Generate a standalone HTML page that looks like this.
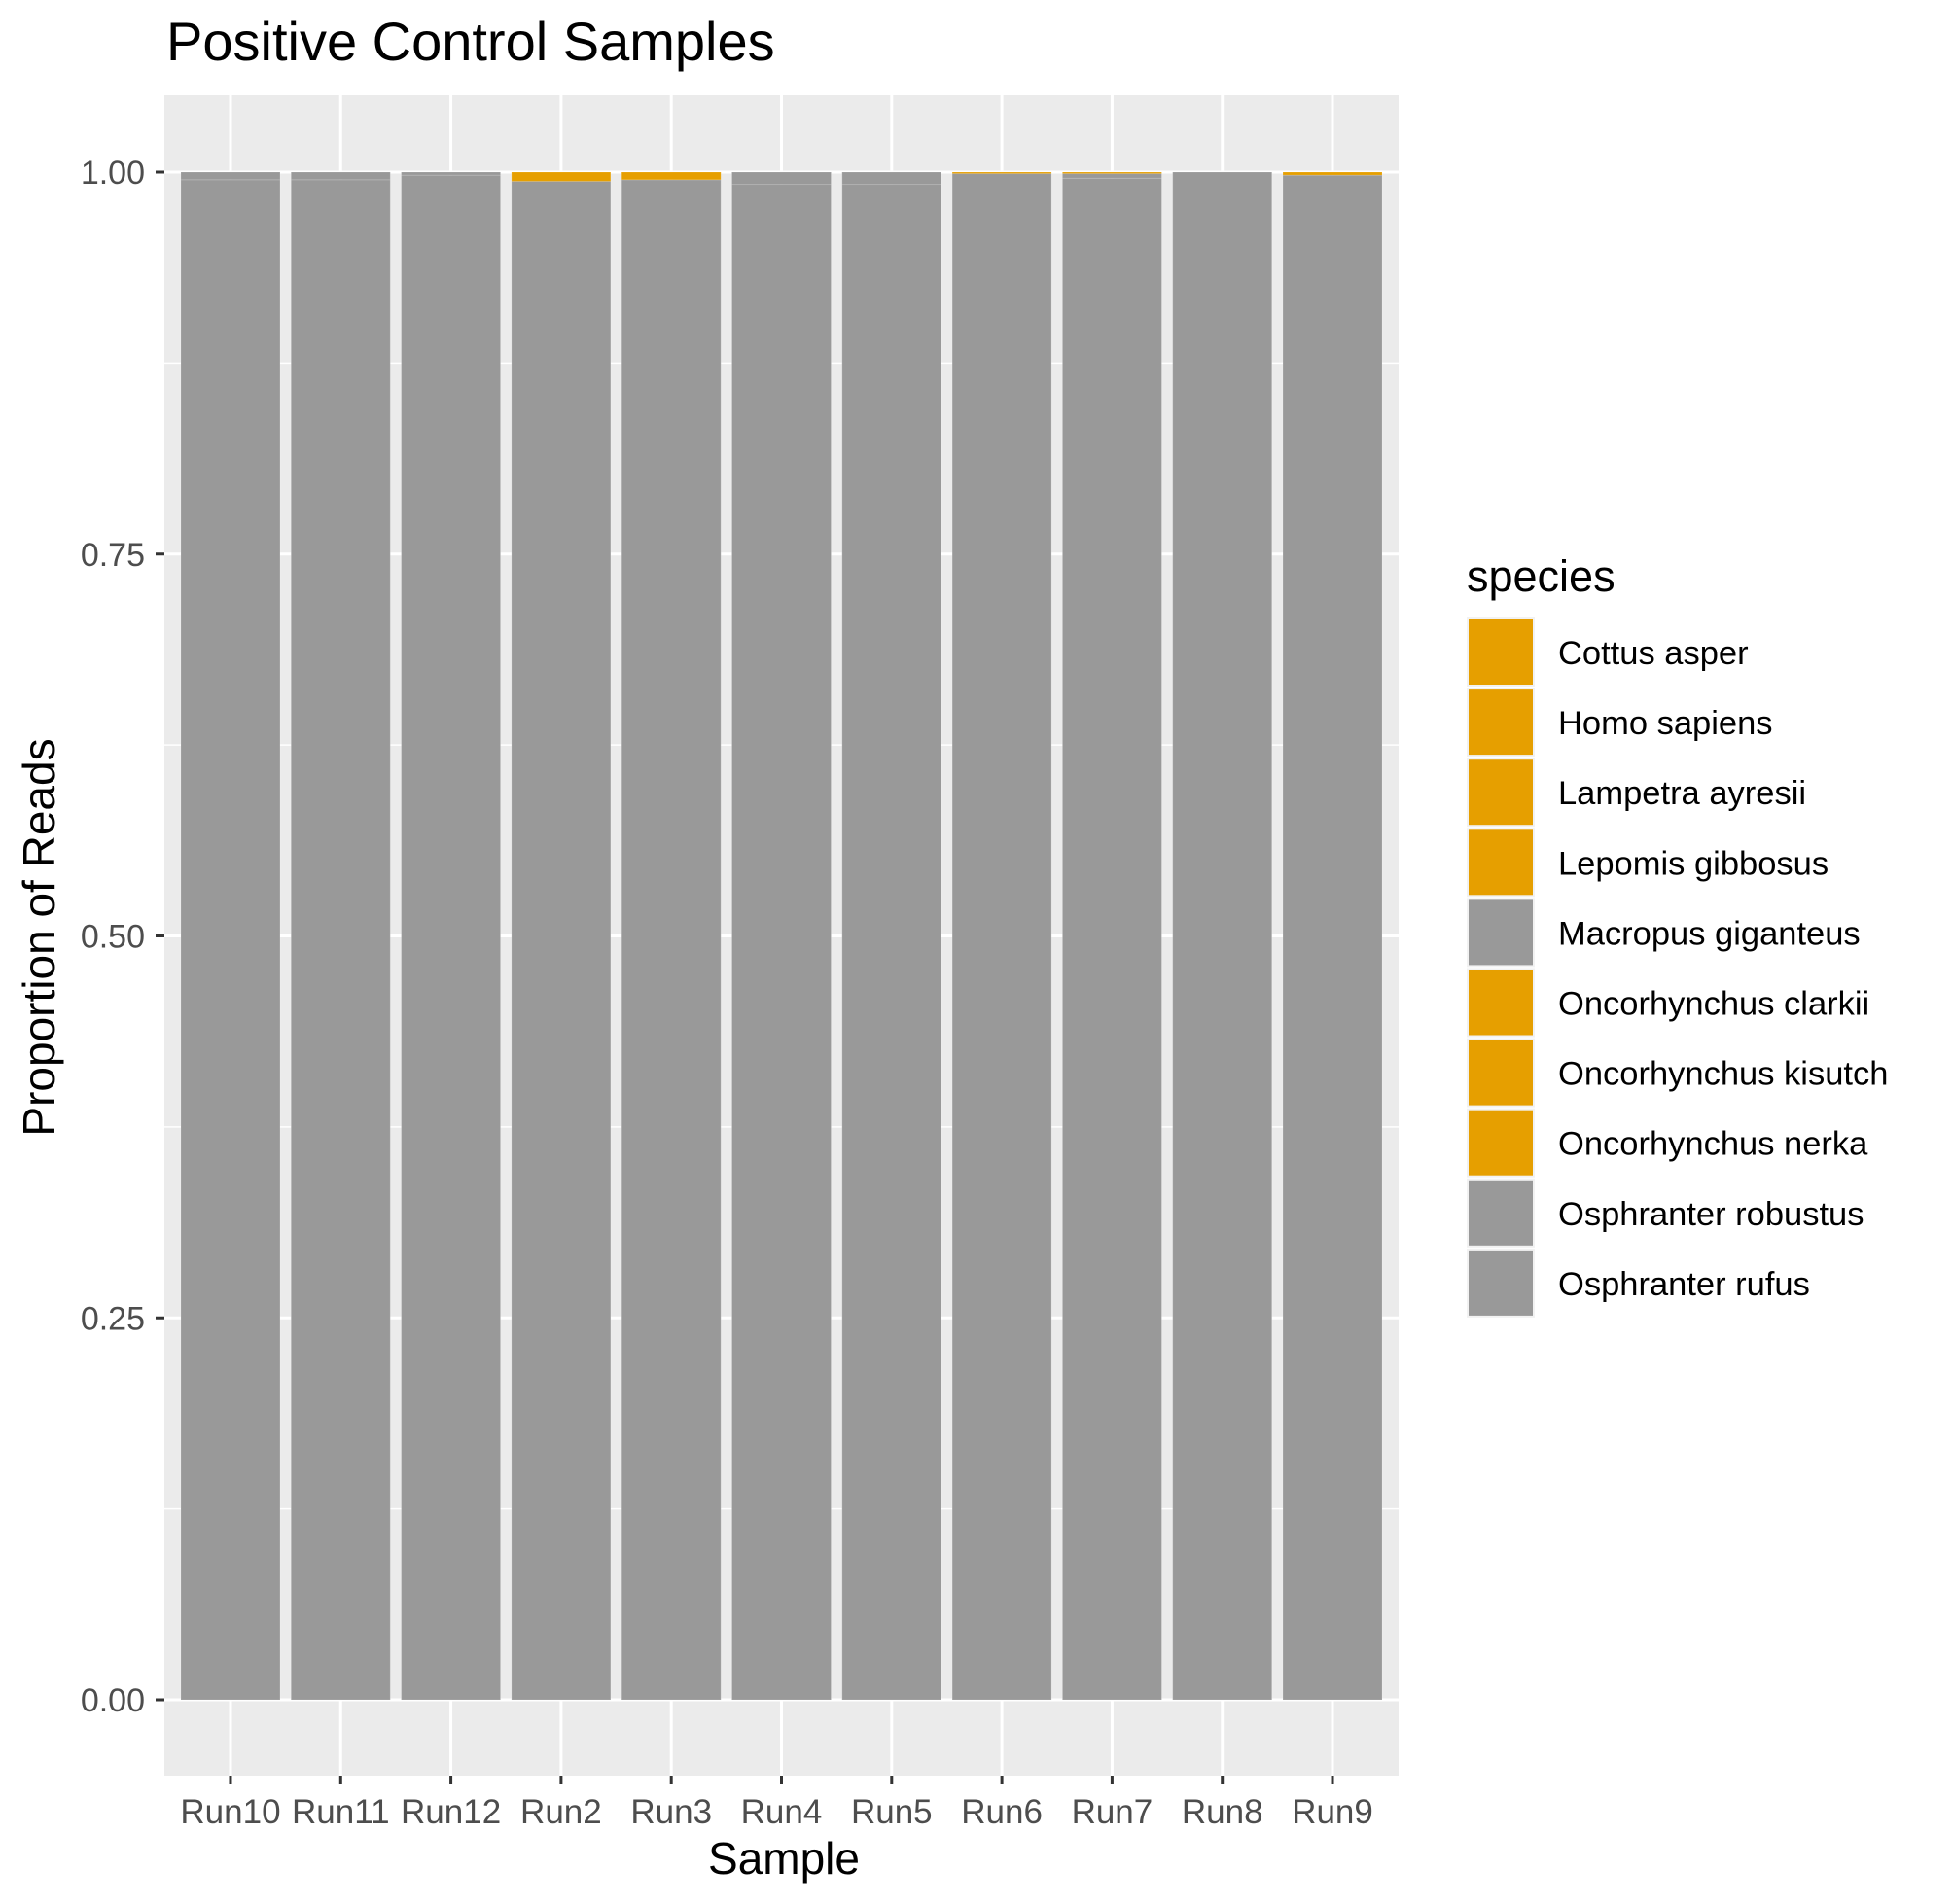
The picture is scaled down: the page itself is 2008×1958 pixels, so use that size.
<!DOCTYPE html>
<html><head><meta charset="utf-8"><style>
html,body{margin:0;padding:0;background:#fff;}
svg{display:block;font-family:"Liberation Sans",sans-serif;}
</style></head><body>
<svg id="chart" width="2008" height="1958" viewBox="0 0 2008 1958">
<text x="171" y="62" font-size="56" fill="#000">Positive Control Samples</text>
<rect x="169" y="98" width="1269" height="1728" fill="#EBEBEB"/>
<g id="grid"></g>
<g id="bars"></g>
<g id="axes"></g>
<text x="806" y="1927" font-size="46" text-anchor="middle" fill="#000">Sample</text>
<text transform="translate(56,964) rotate(-90)" font-size="46" text-anchor="middle" fill="#000">Proportion of Reads</text>
<g id="legend">
<text x="1508" y="608" font-size="45" fill="#000">species</text>
</g>
</svg>
<script>
const categories=["Run10","Run11","Run12","Run2","Run3","Run4","Run5","Run6","Run7","Run8","Run9"];
const speciesNames=["Cottus asper","Homo sapiens","Lampetra ayresii","Lepomis gibbosus","Macropus giganteus","Oncorhynchus clarkii","Oncorhynchus kisutch","Oncorhynchus nerka","Osphranter robustus","Osphranter rufus"];
const speciesColors=["#E69F00","#E69F00","#E69F00","#E69F00","#999999","#E69F00","#E69F00","#E69F00","#999999","#999999"];
const orangeShare=[0,0,0,0.006,0.005,0,0,0.001,0.001,0,0.002];
const macropusShare=[0.005,0.005,0.002,0,0,0.008,0.008,0,0.003,0,0];
const rufusShare=[0.995,0.995,0.998,0.994,0.995,0.992,0.992,0.999,0.996,1,0.998];
const yTicks=[0,0.25,0.5,0.75,1];
const yTickLabels=["0.00","0.25","0.50","0.75","1.00"];
const yMinor=[0.125,0.375,0.625,0.875];

const NS="http://www.w3.org/2000/svg";
const pL=169,pR=1438,pT=98,pB=1826;
const y0=1748,y1=177;
function yScale(v){return y0+(y1-y0)*v;}
const step=(pR-pL)/(categories.length+0.2);
function xScale(i){return pL+step*(0.6+i);}
const bw=step*0.9;
function mk(tag,attrs,parent){const e=document.createElementNS(NS,tag);for(const k in attrs)e.setAttribute(k,attrs[k]);parent.appendChild(e);return e;}
const grid=document.getElementById('grid'),bars=document.getElementById('bars'),axes=document.getElementById('axes'),legend=document.getElementById('legend');
yMinor.forEach(v=>{const l=mk('line',{x1:pL,x2:pR,y1:yScale(v),y2:yScale(v),stroke:'#fff','stroke-width':1.5},grid);

});
yTicks.forEach((v,i)=>{const l=mk('line',{x1:pL,x2:pR,y1:yScale(v),y2:yScale(v),stroke:'#fff','stroke-width':3},grid);


const t=mk('line',{x1:pL-9,x2:pL,y1:yScale(v),y2:yScale(v),stroke:'#333','stroke-width':3},axes);


const tx=mk('text',{x:pL-20,y:yScale(v)+12,'font-size':34,fill:'#4D4D4D','text-anchor':'end'},axes);
tx.textContent=yTickLabels[i];

});
categories.forEach((c,i)=>{const x=xScale(i);
const g=mk('line',{x1:x,x2:x,y1:pT,y2:pB,stroke:'#fff','stroke-width':3},grid);


const t=mk('line',{x1:x,x2:x,y1:pB,y2:pB+9,stroke:'#333','stroke-width':3},axes);


const tx=mk('text',{x:x,y:pB+49,'font-size':35,fill:'#4D4D4D','text-anchor':'middle'},axes);
tx.textContent=c;


const segs=[[rufusShare[i],'#999999','bar-osphranter-rufus'],[macropusShare[i],'#999999','bar-macropus-giganteus'],[orangeShare[i],'#E69F00','bar-fish-species']];
let cum=0;
segs.forEach(s=>{if(s[0]<=0)return;const ya=yScale(cum),yb=yScale(cum+s[0]);cum+=s[0];
const r=mk('rect',{x:x-bw/2,y:yb,width:bw,height:ya-yb,fill:s[1],stroke:'rgba(255,255,255,0.15)','stroke-width':1},bars);

});
});
speciesNames.forEach((n,i)=>{const ky=637+72.1*i;
const bg=mk('rect',{x:1508,y:ky-2,width:70,height:71,fill:'#F2F2F2'},legend);


const r=mk('rect',{x:1510,y:ky,width:66,height:67,fill:speciesColors[i]},legend);


const t=mk('text',{x:1602,y:ky+46,'font-size':34.5,fill:'#000'},legend);
t.textContent=n;

});
</script>
</body></html>
